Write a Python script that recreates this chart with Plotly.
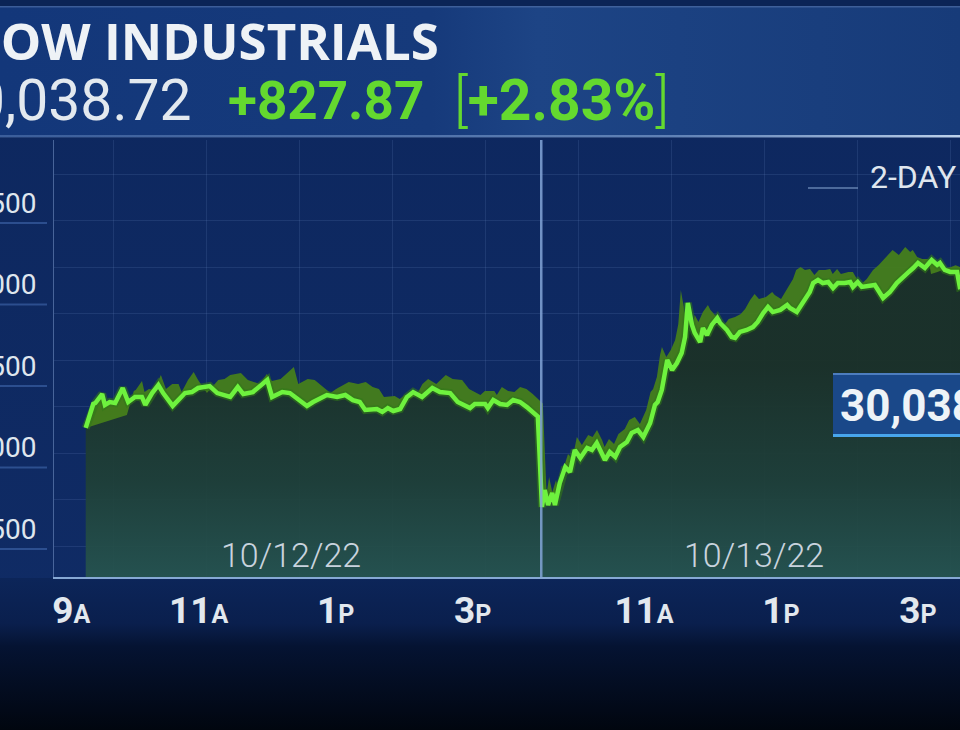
import base64
import plotly.graph_objects as go

# ---------------- data ----------------
# x = trading hours since the 9:30 open on 10/12/22 (6.5 = 9:30 open on 10/13/22)
day1_hours = [-0.15, -0.04, -0.01, 0.09, 0.13, 0.20, 0.28, 0.39, 0.47, 0.57, 0.67, 0.72, 0.82, 0.91, 0.98,
              1.12, 1.30, 1.40, 1.49, 1.66, 1.77, 1.96, 2.07, 2.15, 2.29, 2.50, 2.57, 2.72, 2.83, 3.08,
              3.17, 3.37, 3.52, 3.64, 3.75, 3.85, 3.93, 4.10, 4.18, 4.26, 4.34, 4.44, 4.54, 4.63, 4.76,
              4.91, 5.02, 5.17, 5.28, 5.46, 5.53, 5.68, 5.72, 5.80, 5.90, 6.00, 6.09, 6.19, 6.29, 6.45]
day1_dow = [29120, 29267, 29273, 29328, 29261, 29279, 29273, 29365, 29279, 29310, 29310, 29261, 29334, 29383, 29334,
            29255, 29334, 29340, 29365, 29377, 29334, 29310, 29371, 29328, 29340, 29414, 29310, 29340, 29334, 29255,
            29279, 29322, 29310, 29322, 29291, 29279, 29230, 29236, 29218, 29242, 29224, 29236, 29310, 29340, 29310,
            29365, 29340, 29334, 29279, 29242, 29267, 29267, 29242, 29291, 29267, 29261, 29291, 29279, 29248, 29190]
day2_hours = [6.51, 6.55, 6.60, 6.66, 6.70, 6.77, 6.85, 6.92, 6.99, 7.07,
              7.17, 7.24, 7.31, 7.39, 7.43, 7.50, 7.58, 7.65, 7.75, 7.82,
              7.91, 7.99, 8.09, 8.16, 8.20, 8.26, 8.31, 8.34, 8.41, 8.48,
              8.55, 8.60, 8.64, 8.70, 8.74, 8.82, 8.86, 8.92, 8.99, 9.07,
              9.11, 9.21, 9.28, 9.33, 9.40, 9.50, 9.59, 9.66, 9.74, 9.81,
              9.88, 9.99, 10.09, 10.13, 10.23, 10.32, 10.42, 10.47, 10.54, 10.61,
              10.69, 10.76, 10.83, 10.93, 11.01, 11.05, 11.12, 11.18, 11.30, 11.37,
              11.49, 11.59, 11.69, 11.78, 11.85, 11.93, 12.00, 12.10, 12.20, 12.28,
              12.32, 12.39, 12.47, 12.57, 12.61, 12.70, 13.00]
day2_dow = [28635, 28739, 28647, 28721, 28647, 28782, 28880, 28850, 28985, 28936,
            28997, 28985, 29028, 28966, 28923, 28972, 28942, 29003, 29034, 29089,
            29107, 29064, 29150, 29261, 29279, 29353, 29488, 29537, 29475, 29518,
            29580, 29678, 29887, 29752, 29703, 29647, 29733, 29690, 29752, 29794,
            29764, 29721, 29678, 29672, 29709, 29721, 29739, 29770, 29825, 29862,
            29831, 29844, 29874, 29856, 29831, 29887, 29954, 30009, 30028, 30009,
            30015, 29978, 30009, 30009, 30015, 29985, 30015, 29985, 29997, 29997,
            29917, 29954, 30009, 30040, 30071, 30101, 30132, 30101, 30150, 30120,
            30132, 30089, 30077, 30077, 29985, 29995, 30038.72]

y_tick_values = [28500, 29000, 29500, 30000, 30500]
y_tick_labels = ["28,500", "29,000", "29,500", "30,000", "30,500"]
x_tick_values = [-0.5, 1.5, 3.5, 5.5, 8.0, 10.0, 12.0]
x_tick_numbers = ["9", "11", "1", "3", "11", "1", "3"]
x_tick_suffixes = ["A", "A", "P", "P", "A", "P", "P"]
date_labels = ["10/12/22", "10/13/22"]
date_label_hours = [2.85, 9.6]
session_break = 6.5
index_name = "DOW INDUSTRIALS"
last_price = "30,038.72"
net_change = "+827.87"
pct_change = "+2.83%"
range_label = "2-DAY"

# ---------------- geometry ----------------
W, H = 960, 730
PL, PR, PT, PB = 54, 960, 140, 577          # plot area in pixels
X_RANGE = [-0.613, 12.613]
Y_RANGE = [28205.5, 30886.5]
H_PER_PX = (X_RANGE[1] - X_RANGE[0]) / (PR - PL)
V_PER_PX = (Y_RANGE[1] - Y_RANGE[0]) / (PB - PT)


def px(x):
    return x / W


def py(y):
    return 1 - y / H


SANS = "Roboto, Open Sans, sans-serif"
GREEN = "#6ef23e"

hours = day1_hours + day2_hours
dow = day1_dow + day2_dow

# 3-D ribbon behind the line (perspective toward the chart centre)
vanish_h = 7.36
depth = 0.08
lift = 13 * V_PER_PX
back_hours = [h + depth * (vanish_h - h) for h in hours]
back_dow = [v + lift for v in dow]

fig = go.Figure()

# area under the line
fig.add_trace(go.Scatter(
    x=hours, y=dow, mode="lines", line=dict(width=0, color="rgba(0,0,0,0)"),
    fill="tozeroy",
    fillgradient=dict(type="vertical", start=Y_RANGE[0], stop=29500,
                      colorscale=[[0, "rgba(38,84,78,0.93)"], [0.45, "rgba(31,64,55,0.93)"],
                                  [1, "rgba(27,49,40,0.96)"]]),
    hoverinfo="skip"))
# ribbon back edge + ribbon fill
fig.add_trace(go.Scatter(x=back_hours, y=back_dow, mode="lines",
                         line=dict(width=0, color="rgba(0,0,0,0)"), hoverinfo="skip"))
fig.add_trace(go.Scatter(x=hours, y=dow, mode="lines", line=dict(width=0, color="rgba(0,0,0,0)"),
                         fill="tonexty", fillcolor="rgba(70,126,27,0.95)", hoverinfo="skip"))
# glow + line
fig.add_trace(go.Scatter(x=hours, y=dow, mode="lines",
                         line=dict(width=8, color="rgba(50,120,25,0.6)"), hoverinfo="skip"))
fig.add_trace(go.Scatter(x=hours, y=dow, mode="lines",
                         line=dict(width=4.5, color=GREEN), hoverinfo="skip"))

# tick pointers
fig.add_trace(go.Scatter(x=x_tick_values, y=[PB + 5] * len(x_tick_values), xaxis="x", yaxis="y2",
                         mode="markers", cliponaxis=False,
                         marker=dict(symbol="triangle-down", size=11, color="#a9c6e6"),
                         hoverinfo="skip"))
fig.add_trace(go.Scatter(x=[PL - 5] * len(y_tick_values), y=y_tick_values, xaxis="x2", yaxis="y",
                         mode="markers", cliponaxis=False,
                         marker=dict(symbol="triangle-left", size=10, color="#b3c9e4"),
                         hoverinfo="skip"))

# first label sits right of its pointer (kept inside the frame)
x_tick_text = [("\u2002" if i == 0 else "") + f"{n}<span style='font-size:25px'>{s}</span>"
               for i, (n, s) in enumerate(zip(x_tick_numbers, x_tick_suffixes))]

# ---------------- background (svg gradients) ----------------
bg_svg = f"""<svg xmlns='http://www.w3.org/2000/svg' width='{W}' height='{H}' viewBox='0 0 {W} {H}'>
<defs>
<linearGradient id='hdr' x1='0' y1='0' x2='1' y2='0'>
<stop offset='0' stop-color='#13377a'/><stop offset='0.45' stop-color='#163a7b'/>
<stop offset='0.56' stop-color='#1d4485'/><stop offset='1' stop-color='#173b79'/></linearGradient>
<linearGradient id='rule' x1='0' y1='0' x2='1' y2='0'>
<stop offset='0' stop-color='#5b7db5' stop-opacity='0.55'/><stop offset='0.7' stop-color='#7d9dcc' stop-opacity='0.7'/>
<stop offset='1' stop-color='#c6daf2' stop-opacity='0.95'/></linearGradient>
<linearGradient id='bot' x1='0' y1='0' x2='0' y2='1'>
<stop offset='0' stop-color='#0c2559'/><stop offset='0.3' stop-color='#0a1f4d'/>
<stop offset='0.45' stop-color='#051332'/><stop offset='1' stop-color='#01060f'/></linearGradient>
<linearGradient id='plot' x1='0' y1='0' x2='0' y2='1'>
<stop offset='0' stop-color='#0d275e'/><stop offset='1' stop-color='#102c66'/></linearGradient>
</defs>
<rect width='{W}' height='{H}' fill='url(#plot)'/>
<rect x='0' y='0' width='{W}' height='{PT - 3}' fill='url(#hdr)'/>
<rect x='0' y='0' width='{W}' height='6' fill='#0b2456'/>
<rect x='0' y='6' width='{W}' height='1.5' fill='#5676ad' opacity='0.6'/>
<rect x='0' y='{PT - 5}' width='{W}' height='2.5' fill='url(#rule)'/>
<rect x='0' y='{PB + 1}' width='{W}' height='{H - PB - 1}' fill='url(#bot)'/>
</svg>"""
bg_uri = "data:image/svg+xml;base64," + base64.b64encode(bg_svg.encode()).decode()

shapes = []
# session divider
shapes.append(dict(type="line", xref="x", yref="paper", x0=session_break, x1=session_break,
                   y0=py(PB), y1=py(PT), line=dict(color="rgba(130,165,215,0.85)", width=2.5), layer="above"))
# y-label underlines
for v in y_tick_values:
    yv = v - 20 * V_PER_PX
    shapes.append(dict(type="line", xref="paper", yref="y", x0=0, x1=px(PL - 7), y0=yv, y1=yv,
                       line=dict(color="rgba(70,110,180,0.55)", width=2)))
# "2-DAY" leader line
shapes.append(dict(type="line", xref="paper", yref="paper", x0=px(808), x1=px(858), y0=py(188), y1=py(188),
                   line=dict(color="rgba(120,150,195,0.6)", width=2)))
# last price box
shapes.append(dict(type="rect", xref="paper", yref="paper", x0=px(833), x1=px(975), y0=py(437), y1=py(373),
                   fillcolor="#1a4889", line=dict(width=0), layer="above"))
shapes.append(dict(type="line", xref="paper", yref="paper", x0=px(833), x1=px(975), y0=py(374), y1=py(374),
                   line=dict(color="#5f8fd0", width=1.5), layer="above"))
shapes.append(dict(type="line", xref="paper", yref="paper", x0=px(833), x1=px(975), y0=py(435.5), y1=py(435.5),
                   line=dict(color="#48a6ec", width=3), layer="above"))

annotations = [
    dict(text=index_name, x=px(441), y=py(40), xanchor="right", yanchor="middle",
         font=dict(family="Open Sans, Roboto, sans-serif", size=51, color="#eef2f6", weight="bold")),
    dict(text=last_price, x=px(194), y=py(101), xanchor="right", yanchor="middle",
         font=dict(family=SANS, size=57, color="#e3e9ef")),
    dict(text=net_change, x=px(226), y=py(101), xanchor="left", yanchor="middle",
         font=dict(family=SANS, size=53, color="#64d92f", weight="bold")),
    dict(text=f"[<b>{pct_change}</b>]", x=px(452), y=py(101), xanchor="left", yanchor="middle",
         font=dict(family=SANS, size=57, color="#64d92f", weight=300)),
    dict(text=range_label, x=px(868), y=py(177), xanchor="left", yanchor="middle",
         font=dict(family=SANS, size=32, color="#dfe6ee")),
    dict(text=last_price, x=px(838), y=py(406), xanchor="left", yanchor="middle",
         font=dict(family=SANS, size=44, color="#eef3f7", weight="bold")),
]
for lbl, hx in zip(date_labels, date_label_hours):
    annotations.append(dict(text=lbl, x=hx, xref="x", y=py(555), yref="paper", xanchor="center",
                            yanchor="middle", font=dict(family=SANS, size=34, color="#c9d3de", weight=300)))
for a in annotations:
    a.setdefault("xref", "paper")
    a.setdefault("yref", "paper")
    a["showarrow"] = False

fig.update_layout(
    width=W, height=H, margin=dict(l=0, r=0, t=0, b=0, autoexpand=False),
    paper_bgcolor="#0e2a62", plot_bgcolor="rgba(0,0,0,0)",
    showlegend=False, hovermode=False,
    images=[dict(source=bg_uri, xref="paper", yref="paper", x=0, y=1, sizex=1, sizey=1,
                 xanchor="left", yanchor="top", sizing="stretch", layer="below")],
    xaxis=dict(domain=[px(PL), 1], range=X_RANGE, showgrid=False, zeroline=False, automargin=False,
               showline=True, linecolor="#86a8d4", linewidth=2,
               tickvals=x_tick_values, ticktext=x_tick_text, ticks="", ticklabelstandoff=0,
               tickfont=dict(family=SANS, size=37, color="#e2e8ee", weight="bold")),
    yaxis=dict(domain=[py(PB), py(PT)], range=Y_RANGE, showgrid=False, zeroline=False, automargin=False,
               showline=True, linecolor="rgba(120,150,200,0.55)", linewidth=1,
               tickvals=y_tick_values, ticktext=y_tick_labels, ticks="", ticklabelstandoff=11,
               tickfont=dict(family=SANS, size=28, color="#dfe6ee")),
    xaxis2=dict(overlaying="x", range=[PL, PR], showgrid=True, gridcolor="rgba(110,140,200,0.17)",
                gridwidth=1, tick0=113, dtick=93, showticklabels=False, ticks="", zeroline=False,
                showline=False, automargin=False),
    yaxis2=dict(overlaying="y", range=[PB, PT], showgrid=True, gridcolor="rgba(110,140,200,0.17)",
                gridwidth=1, tick0=267, dtick=46.5, showticklabels=False, ticks="", zeroline=False,
                showline=False, automargin=False),
    shapes=shapes, annotations=annotations,
)

fig.write_html("out.html", config={"displayModeBar": False},
               post_script="document.body.style.margin='0';document.body.style.background='#01060f';")
